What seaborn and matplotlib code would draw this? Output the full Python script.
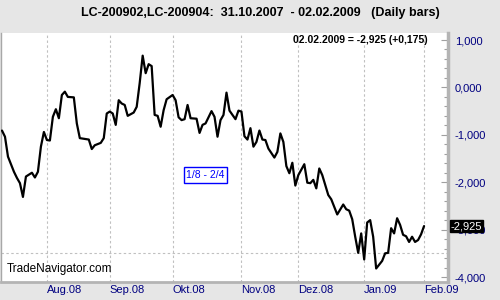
import matplotlib
matplotlib.use('Agg')
import matplotlib.pyplot as plt
import matplotlib.transforms as mtrans
from matplotlib.ticker import FixedLocator, MultipleLocator, FuncFormatter
import seaborn as sns
import pandas as pd

# trading-day number (0 = 11.07.2008) and spread value
day = [0, 1, 2, 4, 5, 6, 7, 8, 10, 11, 12, 13, 14, 15, 16, 17, 18, 19, 20, 21,
       22, 24, 25, 26, 29, 30, 31, 33, 34, 35, 36, 37, 38, 39, 40, 41, 42, 44,
       45, 46, 47, 48, 49, 50, 51, 52, 53, 54, 55, 57, 58, 59, 60, 61, 62, 63,
       65, 66, 67, 68, 70, 71, 72, 73, 74, 75, 76, 78, 79, 80, 81, 82, 83, 84,
       85, 86, 87, 88, 89, 91, 92, 93, 94, 95, 96, 97, 98, 99, 101, 102, 103,
       104, 105, 106, 107, 109, 110, 112, 114, 115, 116, 117, 118, 119, 120,
       121, 122, 123, 124, 125, 127, 128, 129, 130, 131, 132, 133, 134, 135,
       136, 137, 138, 139, 140, 141]
spread = [-0.91, -1.04, -1.46, -1.78, -1.91, -2.02, -2.31, -1.88, -1.80, -1.90,
          -1.78, -1.25, -0.94, -1.11, -1.12, -0.62, -0.46, -0.65, -0.16, -0.09,
          -0.20, -0.21, -0.76, -1.07, -1.10, -1.30, -1.22, -1.17, -1.07, -0.55,
          -0.51, -0.55, -0.79, -0.27, -0.34, -0.37, -0.60, -0.53, -0.41, 0.09,
          0.67, 0.30, 0.49, 0.45, -0.58, -0.60, -0.83, -0.48, -0.25, -0.16,
          -0.27, -0.63, -0.69, -0.67, -0.37, -0.65, -0.66, -0.96, -0.79, -0.76,
          -0.50, -0.62, -1.04, -0.69, -0.58, -0.11, -0.49, -0.67, -0.49, -0.51,
          -1.03, -1.10, -0.86, -1.25, -1.15, -0.91, -1.10, -1.11, -1.29, -1.48,
          -1.36, -0.97, -1.15, -1.66, -1.81, -1.59, -2.07, -1.85, -1.62, -2.01,
          -2.02, -1.95, -2.13, -1.71, -1.85, -2.27, -2.36, -2.68, -2.47, -2.57,
          -2.60, -2.78, -3.15, -3.49, -3.08, -3.63, -2.85, -2.80, -3.15, -3.82,
          -3.66, -3.50, -3.49, -2.97, -3.08, -2.76, -2.90, -3.11, -3.14, -3.26,
          -3.15, -3.26, -3.22, -3.10, -2.925]

month_day = [15, 36, 57, 80, 99, 121, 141]
month_labels = ['Aug.08', 'Sep.08', 'Okt.08', 'Nov.08', 'Dez.08', 'Jan.09', 'Feb.09']
y_ticks = [1, 0, -1, -2, -3, -4]
ref_line = -3.5
title = 'LC-200902,LC-200904:  31.10.2007  - 02.02.2009   (Daily bars)'
last_text = '02.02.2009 = -2,925 (+0,175)'
last_value = -2.925
last_label = '-2,925'
range_text = '1/8 - 2/4'
credit = 'TradeNavigator.com'

sns.set_theme(style='white')
plt.rcParams['font.family'] = ['Liberation Sans', 'DejaVu Sans']

BG = '#e6e6e6'
NAVY = '#000080'
GRID = '#c0c0c0'

fig = plt.figure(figsize=(5, 3), dpi=100, facecolor=BG)
ax = fig.add_axes([0.002, 0.06, 0.894, 0.83])
ax.set_facecolor('white')

df = pd.DataFrame({'day': day, 'spread': spread})
sns.lineplot(data=df, x='day', y='spread', ax=ax, color='black',
             linewidth=1.6, estimator=None, sort=False, zorder=3)

ax.set_xlim(-0.33, 149)
ax.set_ylim(-4.105, 1.148)
ax.set_xlabel('')
ax.set_ylabel('')

# x axis: month starts
ax.xaxis.set_major_locator(FixedLocator(month_day))
ax.set_xticklabels(month_labels)
for lab in ax.get_xticklabels():
    lab.set_horizontalalignment('left')
ax.tick_params(axis='x', length=0, pad=2.5, labelsize=8, labelcolor=NAVY)
ax.grid(axis='x', color=GRID, linestyle=(0, (2.2, 2.2)), linewidth=0.8)
ax.grid(axis='y', visible=False)
ax.axhline(ref_line, color=GRID, linestyle=(0, (2.2, 2.2)), linewidth=0.8, zorder=1)

# y axis on right
ax.yaxis.tick_right()
ax.yaxis.set_major_locator(FixedLocator(y_ticks))
ax.yaxis.set_minor_locator(MultipleLocator(0.2))
ax.yaxis.set_major_formatter(FuncFormatter(lambda v, p: ('%.3f' % v).replace('.', ',')))
ax.tick_params(axis='y', which='major', direction='in', length=5, width=0.8,
               color='#a0a0a0', labelsize=8, labelcolor=NAVY, pad=5,
               right=True, left=False)
ax.tick_params(axis='y', which='minor', direction='in', length=3, width=0.8,
               color='#a0a0a0', right=True, left=False)

ax.spines['top'].set_visible(False)
ax.spines['left'].set_color('#a8a8a8')
ax.spines['left'].set_linewidth(1.0)
ax.spines['right'].set_color('#b4b4b4')
ax.spines['right'].set_linewidth(2.5)
ax.spines['bottom'].set_color('#b4b4b4')
ax.spines['bottom'].set_linewidth(2.0)

# texts
fig.text(0.52, 0.958, title, ha='center', va='center', fontsize=9,
         fontweight='bold', color='black')
ax.text(0.955, 0.972, last_text, transform=ax.transAxes, ha='right', va='center',
        fontsize=7.5, fontweight='bold', color='black')
ax.text(0.4576, 0.43, range_text, transform=ax.transAxes, ha='center', va='center',
        fontsize=7.5, color='#0000ff',
        bbox=dict(boxstyle='square,pad=0.25', facecolor='white', edgecolor='#0000ff', linewidth=1.0))
ax.text(0.012, 0.03, credit, transform=ax.transAxes, ha='left', va='bottom',
        fontsize=8.5, color='black')
trans = mtrans.blended_transform_factory(ax.transAxes, ax.transData)
ax.text(1.006, last_value, last_label, transform=trans, ha='left', va='center',
        fontsize=8, color='white', zorder=10, clip_on=False,
        bbox=dict(boxstyle='square,pad=0.1', facecolor='black', edgecolor='black'))

fig.savefig('out.png', dpi=100, facecolor=BG)
